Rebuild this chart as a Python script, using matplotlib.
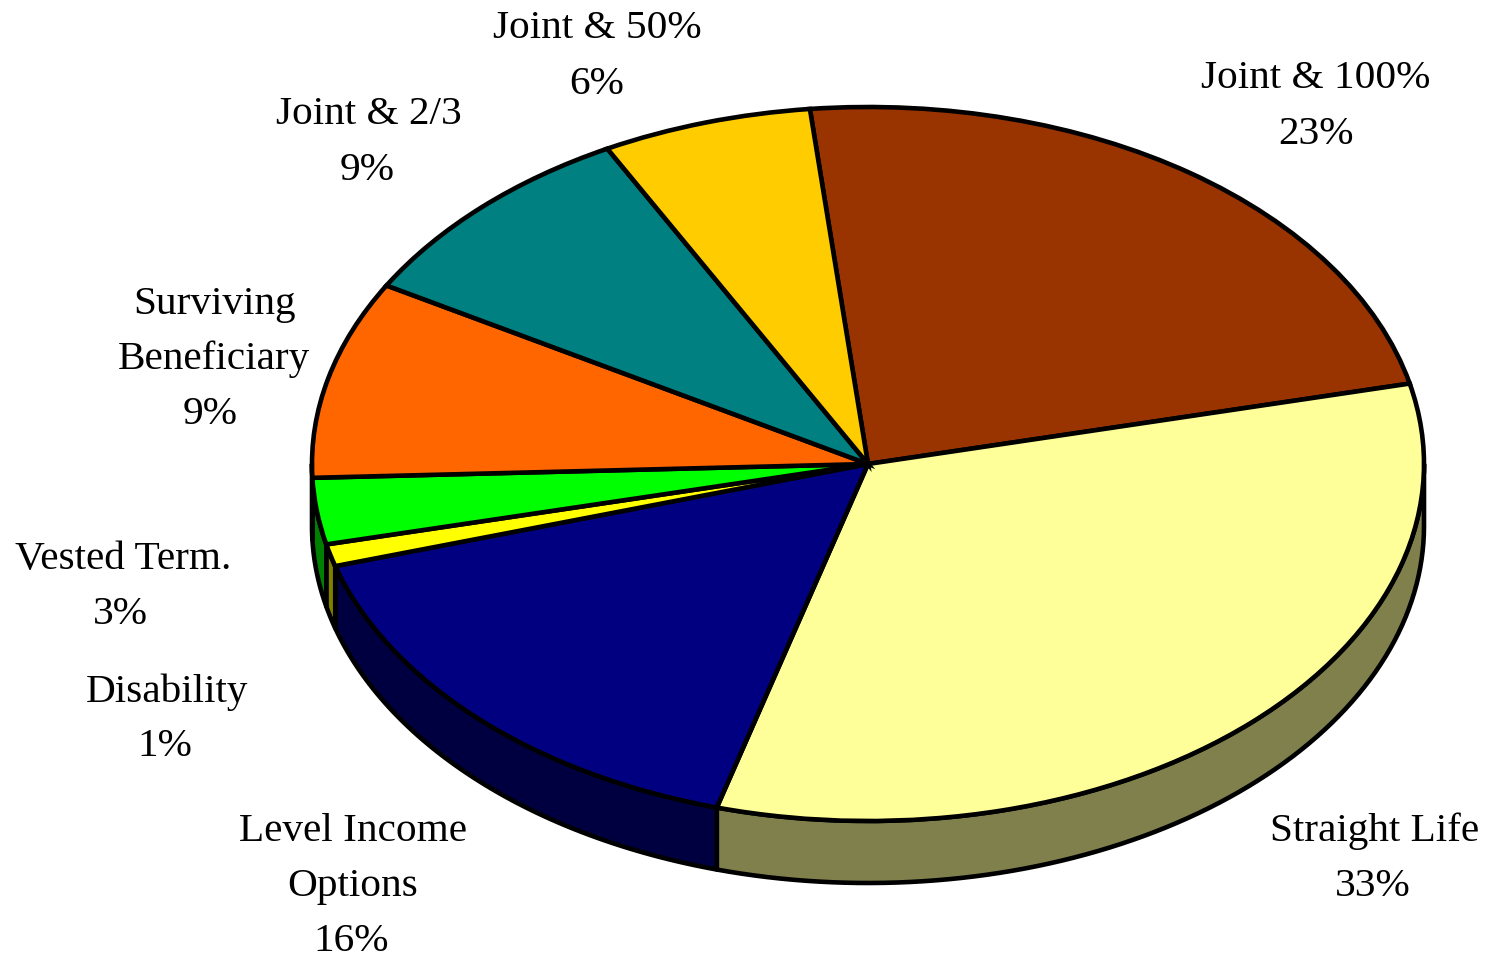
import numpy as np
import matplotlib
matplotlib.use("Agg")
import matplotlib.pyplot as plt
from matplotlib.colors import to_rgb

plt.rcParams["font.family"] = ["Liberation Serif", "DejaVu Serif"]

labels = ["Joint & 100%", "Straight Life", "Level Income\nOptions", "Disability",
          "Vested Term.", "Surviving\nBeneficiary", "Joint & 2/3", "Joint & 50%"]
values = [23.05, 33, 16, 1, 3, 8.95, 8.9, 6.1]
pct_labels = ["23%", "33%", "16%", "1%", "3%", "9%", "9%", "6%"]
colors = ["#993300", "#FFFF99", "#000080", "#FFFF00",
          "#00FF00", "#FF6600", "#008080", "#FFCC00"]
# label centres in pixels, and x of the percent line
label_pos = [(1316, 103), (1375, 855), (353, 883), (167, 716),
             (123, 584), (214, 356), (369, 139), (597, 53)]
pct_x = [1316, 1373, 351, 165, 120, 210, 367, 597]

W, H = 1487, 959
cx, cy = 868, 464   # pie centre in pixels
rx, ry = 556, 357   # ellipse radii
depth = 62 / ry     # side wall height in pie units
start = 96
lw = 3.3

fig = plt.figure(figsize=(W / 100, H / 100), dpi=100)
ax = fig.add_axes([0, 0, 1, 1])

wedges, _ = ax.pie(values, startangle=start, counterclock=False, colors=colors,
                   wedgeprops={"edgecolor": "black", "linewidth": lw, "zorder": 3})
ax.set_aspect("auto")
ax.set_xlim(-cx / rx, (W - cx) / rx)
ax.set_ylim((cy - H) / ry, cy / ry)

# side wall: only the part of each slice on the front half
edges = start - np.cumsum([0] + values) * 3.6
for i in range(len(values)):
    a0 = min(edges[i], 0)
    a1 = max(edges[i + 1], -180)
    if a0 <= a1:
        continue
    t = np.radians(np.linspace(a0, a1, 80))
    x = np.cos(t)
    y = np.sin(t)
    dark = tuple(c * 0.5 for c in to_rgb(colors[i]))
    ax.fill(np.r_[x, x[::-1]], np.r_[y, y[::-1] - depth], facecolor=dark,
            edgecolor="black", linewidth=lw, joinstyle="round", zorder=2)

for text, pct, (px, py), qx in zip(labels, pct_labels, label_pos, pct_x):
    lines = text.split("\n") + [pct]
    top = py + 3.5 - 55 * (len(lines) - 1) / 2
    for j, s in enumerate(lines):
        lx = qx if j == len(lines) - 1 else px
        fig.text(lx / W, 1 - (top + 55 * j) / H, s, fontsize=29.7,
                 ha="center", va="center")

ax.axis("off")
fig.savefig("out.png", dpi=100)
